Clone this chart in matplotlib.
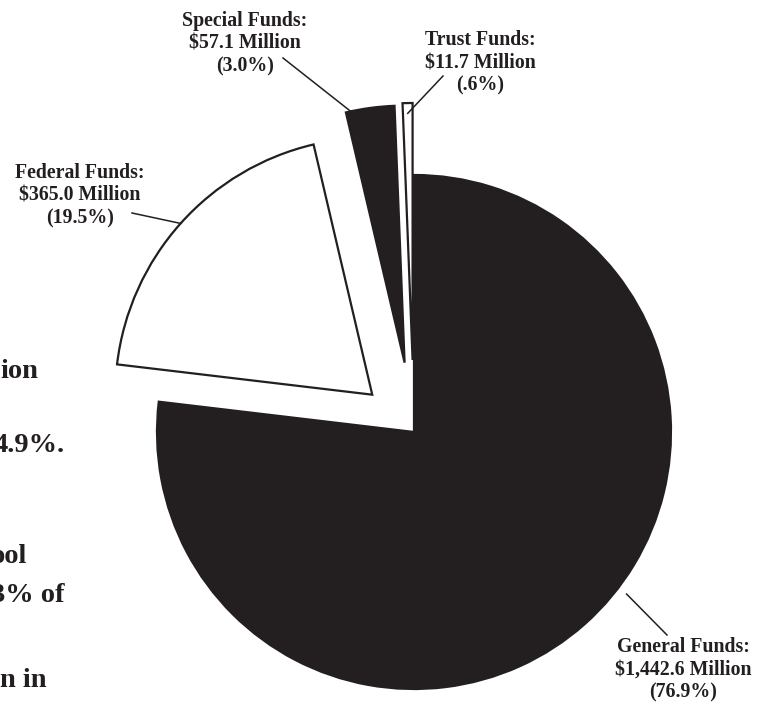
import numpy as np
import matplotlib.pyplot as plt

# fund sources, $ million
funds = ['General Funds:', 'Federal Funds:', 'Special Funds:', 'Trust Funds:']
amounts = [1442.6, 365.0, 57.1, 11.7]
amount_labels = ['$1,442.6 Million', '$365.0 Million', '$57.1 Million', '$11.7 Million']
share_labels = ['(76.9%)', '(19.5%)', '(3.0%)', '(.6%)']
fills = ['#231f20', 'white', '#231f20', 'white']

# body text of the page, cut off at the left edge
side_text = ['ion', '4.9%.', 'ool', '3% of', 'n in']

W, H = 768, 703
ink = '#231f20'
plt.rcParams['font.family'] = ['Liberation Serif', 'DejaVu Serif']

fig = plt.figure(figsize=(W / 100, H / 100), dpi=100)
ax = fig.add_axes([0, 0, 1, 1])
ax.set_xlim(0, W)
ax.set_ylim(0, H)
ax.set_aspect('equal')
ax.axis('off')

# pie layout (pixels)
cx, cy, rad = 414, H - 432, 257
explode = [0, 56, 70, 72]

wedges, _ = ax.pie(amounts, colors=fills, startangle=90, counterclock=False,
                   center=(cx, cy), radius=rad, explode=explode,
                   wedgeprops=dict(edgecolor=ink, linewidth=1.6))
ax.set_xlim(0, W)
ax.set_ylim(0, H)

# label boxes and leader tips: (text centre x, centre y), arc fraction, radial factor
label_pos = [(683, H - 670), (80, H - 196), (245, H - 44), (480, H - 63)]
line_start = [(667, H - 635), (132, H - 213), (283, H - 58), (443, H - 76)]
arc_frac = [0.54, 0.5, 0.9, 0.5]
arc_k = [1.04, 1.0, 1.0, 0.96]

for w, name, amt, pct, lp, ls, f, k in zip(wedges, funds, amount_labels, share_labels,
                                         label_pos, line_start, arc_frac, arc_k):
    th = np.deg2rad(w.theta1 + f * (w.theta2 - w.theta1))
    tip = (w.center[0] + k * w.r * np.cos(th), w.center[1] + k * w.r * np.sin(th))
    ax.plot([ls[0], tip[0]], [ls[1], tip[1]], color=ink, lw=1.1)
    ax.text(lp[0], lp[1], name + '\n' + amt + '\n' + pct, ha='center', va='center',
            multialignment='center', fontsize=14.3, fontweight='bold', color=ink,
            linespacing=1.18)

side_x = [0, -6, -9, -9, 0]
side_y = [378, 452, 563, 602, 687]
for s, x, y in zip(side_text, side_x, side_y):
    ax.text(x, H - y, s, ha='left', va='baseline', fontsize=20.5,
            fontweight='bold', color=ink)

fig.savefig('out.png', dpi=100, facecolor='white')
